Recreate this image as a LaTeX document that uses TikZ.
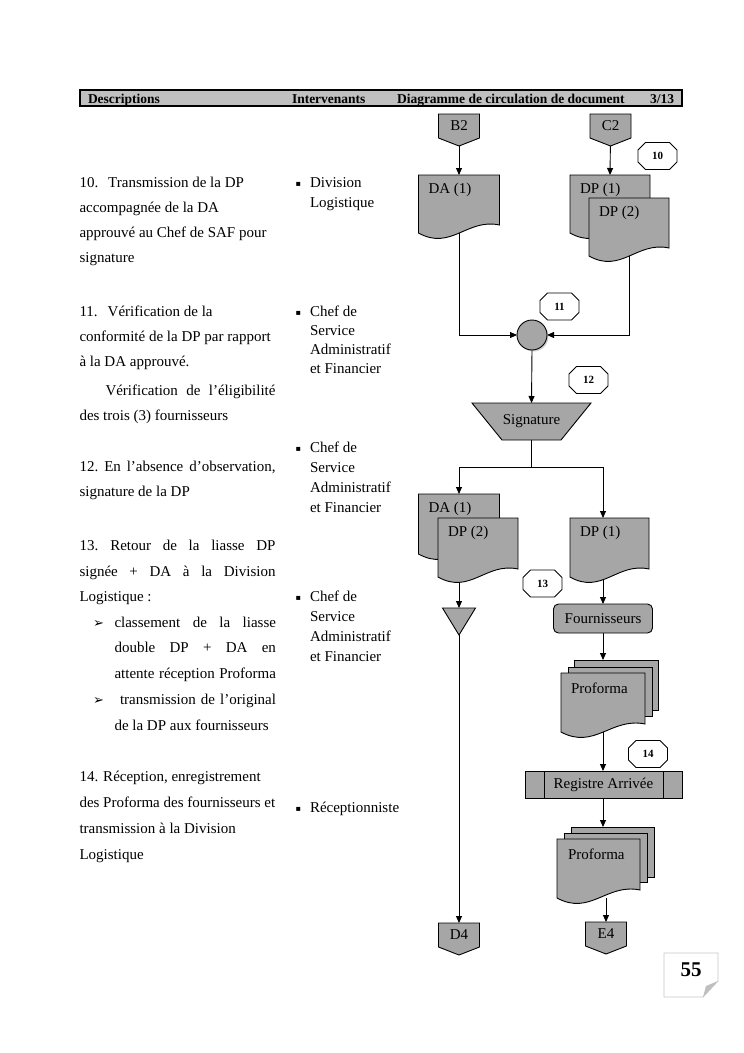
\documentclass[tikz,border=0pt]{standalone}
\usepackage{fontspec}
\setmainfont{Liberation Serif}
\newfontfamily\dejavu{DejaVu Sans}
\usetikzlibrary{arrows.meta,calc,shadows}
\definecolor{shpgray}{RGB}{166,166,166}
\definecolor{hdrgray}{RGB}{192,192,192}
\definecolor{pgborder}{RGB}{200,200,200}
\pgfdeclarelayer{paper}
\pgfdeclarelayer{bg}
\pgfdeclarelayer{shapes}
\pgfsetlayers{paper,bg,shapes,main}
\newcommand\docshape[1]{\filldraw[shapestyle] (#1.north west) -- (#1.north east) -- ([yshift=8pt]#1.south east)
  .. controls ($(#1.south west)!0.6!(#1.south east)+(0pt,15pt)$) and ($(#1.south west)!0.4!(#1.south east)+(0pt,-18pt)$) .. (#1.south west) -- cycle;}
\newcommand\offpage[1]{\filldraw[shapestyle] (#1.north west) -- (#1.north east) -- (#1.south east) -- ([yshift=-8pt]#1.south) -- (#1.south west) -- cycle;}
\newcommand\octa[1]{\filldraw[fill=white,draw=black,line width=0.9pt] ([xshift=7.5pt]#1.north west) -- ([xshift=-7.5pt]#1.north east) -- ([yshift=-7.5pt]#1.north east) -- ([yshift=7.5pt]#1.south east) -- ([xshift=-7.5pt]#1.south east) -- ([xshift=7.5pt]#1.south west) -- ([yshift=7.5pt]#1.south west) -- ([yshift=-7.5pt]#1.north west) -- cycle;}
\newcommand\bul{{\dejavu\fontsize{8}{10}\selectfont ▪}}
\newcommand\arrbul{{\dejavu\fontsize{13}{14}\selectfont ➢}}
\tikzset{
 every node/.style={inner sep=0pt, outer sep=0pt},
 sz/.style 2 args={minimum width=#1pt, minimum height=#2pt},
 body/.style={anchor=base west, font=\fontsize{15}{18}\selectfont},
 hdrtext/.style={anchor=base west, font=\fontsize{13.5}{16}\selectfont\bfseries},
 shapetext/.style={font=\fontsize{15}{18}\selectfont},
 doclabel/.style={anchor=west, xshift=10pt, yshift=-15pt, font=\fontsize{15}{18}\selectfont},
 octnum/.style={font=\fontsize{11}{13}\selectfont\bfseries},
 arr/.style={draw, line width=0.9pt, -{Triangle[length=7pt,width=6pt]}},
 conn/.style={draw, line width=0.9pt},
 shapestyle/.style={fill=shpgray, draw=black, line width=0.9pt},
}
\begin{document}
\begin{tikzpicture}[x=1pt,y=-1pt]
\useasboundingbox (0,0) rectangle (744,1053);
\begin{pgfonlayer}{paper}
\fill[white] (0,0) rectangle (744,1053);
\end{pgfonlayer}
% header
\node[draw, fill=hdrgray, line width=1.2pt, anchor=north west, sz={602}{16}] (hdr) at (80,90) {};
\node[hdrtext] (h1) at (88,103) {Descriptions};
\node[hdrtext] (h2) at (292,103) {Intervenants};
\node[hdrtext] (h3) at (397,103) {Diagramme de circulation de document};
\node[hdrtext] (h4) at (650,103) {3/13};
% left column
\node[body] (a1) at (79.5,187.5) {10.\hspace{10pt}Transmission de la DP};
\node[body] (a2) at (79.5,212.5) {accompagnée de la DA};
\node[body] (a3) at (79.5,237.5) {approuvé au Chef de SAF pour};
\node[body] (a4) at (79.5,262.5) {signature};
\node[body] (b1) at (79.5,316.5) {11.\hspace{10pt}Vérification de la};
\node[body] (b2) at (79.5,341.5) {conformité de la DP par rapport};
\node[body] (b3) at (79.5,366.5) {à la DA approuvé.};
\node[body] (b4) at (105.5,395.5) {\makebox[170pt][s]{Vérification de l’éligibilité}};
\node[body] (b5) at (79.5,420.5) {des trois (3) fournisseurs};
\node[body] (c1) at (79.5,471.5) {\makebox[196pt][s]{12.\hspace{6pt}En l’absence d’observation,}};
\node[body] (c2) at (79.5,496.5) {signature de la DP};
\node[body] (d1) at (79.5,550.5) {\makebox[196pt][s]{13.\hspace{12pt}Retour de la liasse DP}};
\node[body] (d2) at (79.5,576.5) {\makebox[196pt][s]{signée + DA à la Division}};
\node[body] (d3) at (79.5,601.5) {Logistique :};
\node[body] (d4b) at (93,627.5) {\arrbul};
\node[body] (d4) at (114.5,627.5) {\makebox[161.5pt][s]{classement de la liasse}};
\node[body] (d5) at (114.5,652.5) {\makebox[161.5pt][s]{double DP + DA en}};
\node[body] (d6) at (114.5,678.5) {\makebox[161.5pt][s]{attente réception Proforma}};
\node[body] (d7b) at (93,704.5) {\arrbul};
\node[body] (d7) at (120,704.5) {\makebox[156pt][s]{transmission de l’original}};
\node[body] (d8) at (114.5,730.5) {de la DP aux fournisseurs};
\node[body] (e1) at (79.5,781.5) {14. Réception, enregistrement};
\node[body] (e2) at (79.5,807.5) {des Proforma des fournisseurs et};
\node[body] (e3) at (79.5,833.5) {transmission à la Division};
\node[body] (e4) at (79.5,859.5) {Logistique};
% intervenants
\node[body] (i1b) at (295.5,186) {\bul};
\node[body] (i1a) at (310,187.5) {Division};
\node[body] (i1c) at (310,207.5) {Logistique};
\node[body] (i2b) at (295.5,315) {\bul};
\node[body] (i2a) at (310,316.5) {Chef de};
\node[body] (i2c) at (310,335.5) {Service};
\node[body] (i2d) at (310,354.5) {Administratif};
\node[body] (i2e) at (310,373.5) {et Financier};
\node[body] (i3b) at (295.5,451) {\bul};
\node[body] (i3a) at (310,452.5) {Chef de};
\node[body] (i3c) at (310,472.5) {Service};
\node[body] (i3d) at (310,492.5) {Administratif};
\node[body] (i3e) at (310,512.5) {et Financier};
\node[body] (i4b) at (295.5,600) {\bul};
\node[body] (i4a) at (310,601.5) {Chef de};
\node[body] (i4c) at (310,621.5) {Service};
\node[body] (i4d) at (310,641.5) {Administratif};
\node[body] (i4e) at (310,661.5) {et Financier};
\node[body] (i5b) at (295.5,811) {\bul};
\node[body] (i5a) at (310,812.5) {Réceptionniste};
% flow nodes
\node[shapetext, sz={41}{24}] (B2) at (459,126) {B2};
\node[shapetext, sz={41}{24}] (C2) at (610.5,126) {C2};
\node[sz={81}{58}, label={[doclabel]north west:DA (1)}] (DA1) at (459,204) {};
\node[sz={80}{58}, label={[doclabel]north west:DP (1)}] (DP1t) at (610,204) {};
\node[sz={80}{58}, label={[doclabel]north west:DP (2)}] (DP2t) at (629,227) {};
\node[circle, draw, fill=shpgray, line width=0.9pt, minimum size=30pt, drop shadow={shadow xshift=1.5pt, shadow yshift=-1.5pt, opacity=0.35}] (circ) at (532,335) {};
\node[shapetext, sz={119}{37}] (sig) at (531.5,421.5) {Signature};
\coordinate (split) at (531.5,467);
\node[sz={81}{60}, label={[doclabel]north west:DA (1)}] (DA1b) at (459,524) {};
\node[sz={80}{59}, label={[doclabel]north west:DP (2)}] (DP2b) at (478,547.5) {};
\node[sz={79}{59}, label={[doclabel]north west:DP (1)}] (DP1b) at (609.5,547.5) {};
\node[sz={33}{27}] (tri) at (459,621.5) {};
\node[shapetext, draw, fill=shpgray, line width=0.9pt, rounded corners=5pt, sz={99}{29}] (fourn) at (603,618.5) {Fournisseurs};
\node[sz={84}{50}] (pf1c) at (616,685) {};
\node[sz={84}{49}] (pf1b) at (610,691.5) {};
\node[sz={84}{59}, label={[doclabel, xshift=0pt]north west:Proforma}] (pf1) at (603,702.5) {};
\node[shapetext, draw, fill=shpgray, line width=0.9pt, sz={157}{27}] (reg) at (603.5,784.5) {Registre Arrivée};
\node[sz={83}{50}] (pf2c) at (612.5,852) {};
\node[sz={83}{49}] (pf2b) at (605.5,857.5) {};
\node[sz={83}{59}, label={[doclabel, xshift=1pt]north west:Proforma}] (pf2) at (598.5,868.5) {};
\node[shapetext, sz={41}{24}] (D4) at (459,935) {D4};
\node[shapetext, sz={41}{24}] (E4) at (606,934) {E4};
% step numbers
\node[octnum, sz={39}{27}] (o10) at (657.5,156) {10};
\node[octnum, sz={39}{27}] (o11) at (559.5,306.5) {11};
\node[octnum, sz={39}{27}] (o12) at (588.5,380) {12};
\node[octnum, sz={39}{27}] (o13) at (542.5,583.5) {13};
\node[octnum, sz={39}{27}] (o14) at (648,754) {14};
% page number
\node[sz={54}{44}, label={[yshift=5pt, font=\fontsize{21}{24}\selectfont\bfseries]center:55}] (pg) at (691,975) {};
% shapes layer
\begin{pgfonlayer}{shapes}
\offpage{B2}\offpage{C2}\offpage{D4}\offpage{E4}
\docshape{DA1}\docshape{DP1t}\docshape{DP2t}
\docshape{DA1b}\docshape{DP2b}\docshape{DP1b}
\filldraw[shapestyle] (sig.north west) -- (sig.north east) -- ([xshift=-30pt]sig.south east) -- ([xshift=30pt]sig.south west) -- cycle;
\filldraw[shapestyle] (tri.north west) -- (tri.north east) -- (tri.south) -- cycle;
\filldraw[shapestyle] (pf1c.north west) rectangle (pf1c.south east);
\filldraw[shapestyle] (pf1b.north west) rectangle (pf1b.south east);
\docshape{pf1}
\filldraw[shapestyle] (pf2c.north west) rectangle (pf2c.south east);
\filldraw[shapestyle] (pf2b.north west) rectangle (pf2b.south east);
\docshape{pf2}
\octa{o10}\octa{o11}\octa{o12}\octa{o13}\octa{o14}
\draw[pgborder, line width=0.8pt] (pg.north west) -- (pg.north east) -- ([yshift=16pt]pg.south east) -- ([xshift=-15pt]pg.south east) -- (pg.south west) -- cycle;
\fill[black!25] ([xshift=-15pt]pg.south east) -- ([xshift=-12pt,yshift=11pt]pg.south east) -- ([yshift=16pt]pg.south east) -- cycle;
\end{pgfonlayer}
\draw[line width=0.9pt] ([xshift=19pt]reg.north west) -- ([xshift=19pt]reg.south west);
\draw[line width=0.9pt] ([xshift=-19pt]reg.north east) -- ([xshift=-19pt]reg.south east);
% connectors
\begin{pgfonlayer}{bg}
\draw[arr] (B2.south) -- (DA1.north);
\draw[arr] (C2.south) -- (DP1t.north);
\draw[arr] (DA1.south) |- (circ.west);
\draw[arr] (DP2t.south) |- (circ.east);
\draw[arr] (circ.south) -- (sig.north);
\draw[conn] (sig.south) -- (split);
\draw[arr] (split) -| (DA1b.north);
\draw[arr] (split) -| (DP1b.north -| fourn.north);
\draw[arr] (DA1b.south |- DP2b.south) -- (tri.north);
\draw[arr] (tri.south) -- (D4.north);
\draw[arr] (DP1b.south -| fourn.north) -- (fourn.north);
\draw[arr] (fourn.south) -- (pf1c.north -| fourn.north);
\draw[arr] (pf1.south -| fourn.south) -- (reg.north -| fourn.south);
\draw[arr] (reg.south -| fourn.south) -- (pf2c.north -| fourn.south);
\draw[arr] (pf2.south -| E4.north) -- (E4.north);
\end{pgfonlayer}
\end{tikzpicture}
\end{document}
